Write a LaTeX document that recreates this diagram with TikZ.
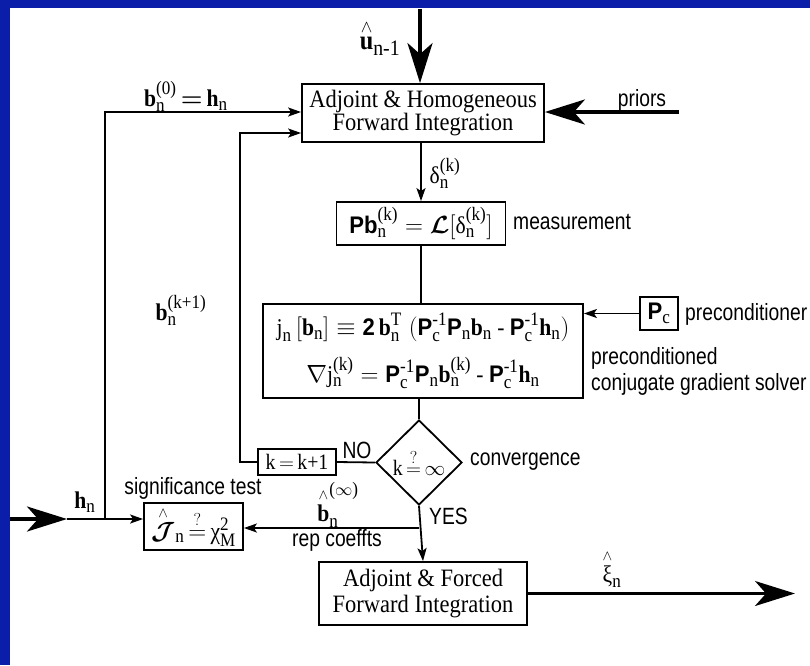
\documentclass[tikz,border=0pt]{standalone}
\usepackage{fontspec}
\usepackage{amsmath}
\setmainfont{Liberation Serif}[FakeStretch=0.9]
\newfontfamily\labfamily{Liberation Sans}[FakeStretch=0.82]
\newfontfamily\hvfamily{Liberation Sans}[FakeStretch=0.92]
\usetikzlibrary{arrows.meta,shapes.geometric,calc}
\definecolor{bord}{RGB}{10,30,170}
\DeclareMathSizes{22}{22}{17.5}{13}
\DeclareMathSizes{24}{24}{19}{14}
\DeclareMathSizes{27}{27}{22}{16}
\newcommand{\serfnt}{\fontsize{25}{22}\selectfont}
\newcommand{\mthfnt}{\fontsize{24}{26}\selectfont}
\newcommand{\smmth}{\fontsize{22}{24}\selectfont}
\newcommand{\bigmth}{\fontsize{27}{29}\selectfont}
\newcommand{\labfnt}{\labfamily\fontsize{23.5}{26}\selectfont}
\newcommand{\tx}[1]{\text{#1}}
\newcommand{\bfb}{\textbf{b}}
\newcommand{\bfh}{\textbf{h}}
\newcommand{\sfP}{\text{\hvfamily\bfseries P}}
\newcommand{\hatw}[1]{\overset{\scriptscriptstyle\wedge}{#1}}
\newcommand{\qeq}{{\stackrel{?}{=}}}
\begin{document}
\begin{tikzpicture}[x=1pt,y=-1pt,
  box/.style={draw, line width=1.8pt, inner sep=0pt, align=center, font=\serfnt},
  conn/.style={line width=1.8pt},
  sarr/.style={conn, -{Stealth[length=13pt,width=9pt,inset=3pt]}},
  barr/.style={line width=3.5pt, -{Stealth[length=40pt,width=25pt,inset=11pt]}},
  lab/.style={font=\labfnt, inner sep=0pt},
  mth/.style={font=\mthfnt, inner sep=0pt}]
\useasboundingbox (0,0) rectangle (810,665);
\fill[bord] (0,0) rectangle (810,665);
\fill[white] (10,8) rectangle (810,665);

% boxes
\node[box, minimum width=242pt, minimum height=58pt] (A) at (423,113)
  {Adjoint \& Homogeneous\\Forward Integration};
\node[box, minimum width=169pt, minimum height=43pt, font=\mthfnt] (B) at (421,223.5)
  {$\text{\hvfamily\bfseries Pb}_{\tx{n}}^{\tx{(k)}} = \boldsymbol{\mathcal{L}}[\tx{δ}_{\tx{n}}^{\tx{(k)}}]$};
\node[box, minimum width=320pt, minimum height=94pt, font=\mthfnt] (C) at (423,351)
  {$\tx{j}_{\tx{n}}\,[\bfb_{\tx{n}}]\;{\equiv}\;\text{\hvfamily\bfseries 2}\,\bfb_{\tx{n}}^{\tx{T}}\;
   (\sfP_{\tx{c}}^{\tx{-1}}\sfP_{\tx{n}}\bfb_{\tx{n}}\tx{ - }\sfP_{\tx{c}}^{\tx{-1}}\bfh_{\tx{n}})$\\[14pt]
   $\nabla\tx{j}_{\tx{n}}^{\tx{(k)}} = \sfP_{\tx{c}}^{\tx{-1}}\sfP_{\tx{n}}\bfb_{\tx{n}}^{\tx{(k)}}\tx{ - }\sfP_{\tx{c}}^{\tx{-1}}\bfh_{\tx{n}}$};
\node[box, minimum width=38pt, minimum height=33pt, font=\mthfnt] (Pc) at (659,313.5)
  {$\sfP_{\tx{c}}$};
\node[box, diamond, minimum width=86pt, minimum height=85pt, font=\smmth] (D) at (419,462.5)
  {$\tx{k}\,\qeq\,\infty$};
\node[box, minimum width=78pt, minimum height=26pt, font=\smmth] (K) at (297,462)
  {$\tx{k}\,{=}\,\tx{k+1}$};
\node[box, minimum width=99pt, minimum height=47pt, font=\mthfnt] (S) at (193.5,526.5)
  {$\hatw{\boldsymbol{\mathcal{J}}}_{\tx{n}}\,\qeq\,\tx{χ}_{\tx{M}}^{\tx{2}}$};
\node[box, minimum width=208pt, minimum height=63pt] (E) at (423,593.5)
  {Adjoint \& Forced\\[2pt]Forward Integration};

% coordinates
\coordinate (topin) at (420,9);
\coordinate (pri) at (679,112);
\coordinate (hin) at (10,519);
\coordinate (hmid) at (67,519);
\coordinate (hj) at (105,519);
\coordinate (fb) at (240,462);
\coordinate (br) at (419,528);
\coordinate (out) at (795,593.5);

% connectors
\draw[barr] (topin) -- (topin |- A.north);
\draw[barr] (pri) -- (A.east |- pri);
\draw[sarr] (hj) |- ([yshift=1pt]A.west);
\draw[sarr] (K.west) -- (fb) |- ([yshift=-20pt]A.west);
\draw[sarr] (A.south -| B.north) -- (B.north);
\draw[conn] (B.south) -- (B.south |- C.north);
\draw[sarr] (Pc.west) -- (C.east |- Pc.west);
\draw[conn] (D.north |- C.south) -- (D.north);
\draw[conn] (D.west) -- (K.east);
\draw[sarr] (D.south) -- (E.north);
\draw[sarr] (br) -- (S.east |- br);
\draw[barr] (hin) -- (hmid);
\draw[sarr] (hmid) -- (S.west |- hmid);
\draw[line width=2.4pt, -{Stealth[length=40pt,width=25pt,inset=11pt]}] (E.east) -- (out);

% labels
\node[mth, font=\bigmth] (lu) at (380,38) {$\hatw{\tx{\textbf{u}}}_{\tx{n-1}}$};
\node[mth] (lb0) at (186,96) {$\bfb_{\tx{n}}^{\tx{(0)}}\,{\boldsymbol{=}}\,\bfh_{\tx{n}}$};
\node[lab] (lpri) at (642,100) {priors};
\node[mth] (ld) at (445,173) {$\tx{δ}_{\tx{n}}^{\tx{(k)}}$};
\node[lab, anchor=west] (lmeas) at (513,222) {measurement};
\node[lab, anchor=west] (lpre) at (685,314) {preconditioner};
\node[lab, anchor=west, align=left] (lcg) at (591,371) {preconditioned\\conjugate gradient solver};
\node[mth] (lbk) at (181,310) {$\bfb_{\tx{n}}^{\tx{(k+1)}}$};
\node[lab, anchor=west] (lconv) at (470,462) {convergence};
\node[lab] (lno) at (357,450) {NO};
\node[lab, anchor=west] (lyes) at (429,516) {YES};
\node[lab] (lsig) at (193,488) {significance test};
\node[mth] (lh) at (85,502) {$\bfh_{\tx{n}}$};
\node[mth] (lbinf) at (338,505) {$\hatw{\bfb}_{\tx{n}}^{\tx{(}\infty\tx{)}}$};
\node[lab] (lrep) at (337,540) {rep coeffts};
\node[mth] (lxi) at (612,569) {$\hatw{\tx{ξ}}_{\tx{n}}$};
\end{tikzpicture}
\end{document}
